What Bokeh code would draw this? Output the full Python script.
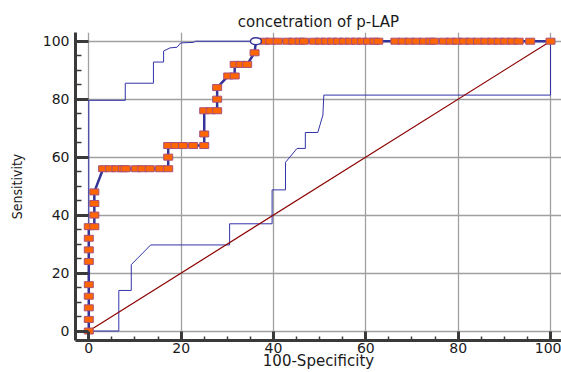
from bokeh.plotting import figure
from bokeh.models import Range1d, FixedTicker
from bokeh.embed import file_html
from bokeh.resources import INLINE

title_text = "concetration of p-LAP"
x_label = "100-Specificity"
y_label = "Sensitivity"

major_ticks = [0, 20, 40, 60, 80, 100]
minor_ticks = [5, 10, 15, 25, 30, 35, 45, 50, 55, 65, 70, 75, 85, 90, 95]

# ROC curve (100-Specificity, Sensitivity)
roc_x = [0, 0, 0, 0, 0, 0, 0, 0, 0,
         1.2, 1.2, 1.2, 1.2,
         3.1, 4.6, 6.0, 7.4, 8.0, 10.2, 11.6, 13.2, 15.4, 17.2,
         17.2, 17.2, 18.8, 20.4, 22.6, 25.0,
         25.0, 25.0, 26.4, 27.8, 27.8, 27.8,
         30.2, 31.6, 31.6, 32.9, 34.3, 35.9,
         36.2,
         38.0, 39.3, 40.9, 43.0, 44.3, 45.7, 46.6, 48.8, 50.1, 51.4,
         52.7, 54.0, 55.3, 56.6, 57.9, 59.2, 60.5, 61.9, 62.7, 66.4,
         68.0, 69.5, 71.0, 72.6, 74.0, 74.8, 76.9, 78.4, 79.8, 81.3,
         82.7, 84.3, 85.9, 87.4, 88.8, 90.2, 91.7, 93.1, 95.6, 100]
roc_y = [0, 4, 8, 12, 16, 24, 28, 32, 36,
         36, 40, 44, 48,
         56, 56, 56, 56, 56, 56, 56, 56, 56, 56,
         60, 64, 64, 64, 64, 64,
         68, 76, 76, 76, 80, 84,
         88, 88, 92, 92, 92, 96,
         100,
         100, 100, 100, 100, 100, 100, 100, 100, 100, 100,
         100, 100, 100, 100, 100, 100, 100, 100, 100, 100,
         100, 100, 100, 100, 100, 100, 100, 100, 100, 100,
         100, 100, 100, 100, 100, 100, 100, 100, 100, 100]

# optimal criterion point
opt_x = [36.2]
opt_y = [100]

# 95% confidence bounds
ci_upper_x = [0, 0, 7.9, 7.9, 14.0, 14.0, 16.2, 16.2, 17.6, 19.1, 19.9, 22.7, 23.1, 100]
ci_upper_y = [0, 79.6, 79.6, 85.5, 85.5, 92.8, 92.8, 96.6, 97.7, 97.9, 99.4, 99.6, 100, 100]
ci_lower_x = [0, 6.5, 6.5, 9.2, 9.2, 13.4, 30.5, 30.5, 39.7, 39.7, 42.6, 42.6, 45.1,
              46.9, 46.9, 49.6, 50.7, 50.9, 100, 100]
ci_lower_y = [0, 0, 14.0, 14.0, 22.9, 29.7, 29.7, 37.0, 37.0, 48.7, 48.7, 58.2, 63.0,
              63.0, 68.5, 68.5, 74.5, 81.4, 81.4, 100]

diag_x = [0, 100]
diag_y = [0, 100]

mk_x = [x for x, y in zip(roc_x, roc_y) if not (x == opt_x[0] and y == opt_y[0])]
mk_y = [y for x, y in zip(roc_x, roc_y) if not (x == opt_x[0] and y == opt_y[0])]

p = figure(width=561, height=372, output_backend="svg", toolbar_location=None,
           x_range=Range1d(-2.88, 102.38), y_range=Range1d(-3.27, 103.0),
           min_border_left=75, min_border_right=0, min_border_top=32, min_border_bottom=31)
p.title.text = title_text
p.title.align = "center"
p.title.text_font = "DejaVu Sans"
p.title.text_font_size = "15px"
p.title.text_font_style = "normal"
p.title.text_color = "#1a1a1a"
p.title.standoff = 4
p.outline_line_color = None
p.background_fill_color = "white"
p.border_fill_color = "white"

for ax in (p.xaxis[0], p.yaxis[0]):
    ax.ticker = FixedTicker(ticks=major_ticks, minor_ticks=minor_ticks)
    ax.axis_line_width = 3
    ax.axis_line_color = "#3a3a3a"
    ax.major_tick_line_color = "#3a3a3a"
    ax.major_tick_line_width = 3
    ax.minor_tick_line_color = "#3a3a3a"
    ax.minor_tick_line_width = 1.5
    ax.major_tick_out = 0
    ax.minor_tick_out = 0
    ax.major_label_text_font = "DejaVu Sans"
    ax.major_label_text_font_size = "14px"
    ax.major_label_text_color = "#1a1a1a"
    ax.axis_label_text_color = "#1a1a1a"
    ax.axis_label_text_font_style = "normal"

p.xaxis.major_tick_in = 9
p.xaxis.minor_tick_in = 4
p.xaxis.major_label_standoff = 2
p.xaxis.axis_label = x_label
p.xaxis.axis_label_text_font = "DejaVu Sans"
p.xaxis.axis_label_text_font_size = "15px"
p.xaxis.axis_label_standoff = -4

p.yaxis.major_tick_in = 13
p.yaxis.minor_tick_in = 6
p.yaxis.major_label_standoff = 6
p.yaxis.axis_label = y_label
p.yaxis.axis_label_text_font = "DejaVu Sans Condensed, Liberation Sans"
p.yaxis.axis_label_text_font_size = "14px"
p.yaxis.axis_label_standoff = 15

for g in (p.xgrid[0], p.ygrid[0]):
    g.grid_line_color = "#a0a0a0"
    g.grid_line_width = 1.3

p.line(ci_upper_x, ci_upper_y, line_color="#3333aa", line_width=1)
p.line(ci_lower_x, ci_lower_y, line_color="#3333aa", line_width=1)
p.line(diag_x, diag_y, line_color="#8b0000", line_width=1.2)
p.line(roc_x, roc_y, line_color="#333399", line_width=2.5)
p.rect(x=mk_x, y=mk_y, width=9, height=6, width_units="screen", height_units="screen",
       fill_color="#ff6600", line_color="#a8507a", line_width=1)
p.ellipse(x=opt_x, y=opt_y, width=11, height=7, width_units="screen", height_units="screen",
          fill_color="white", line_color="#333399", line_width=1.5)

open("out.html", "w").write(file_html(p, INLINE))
